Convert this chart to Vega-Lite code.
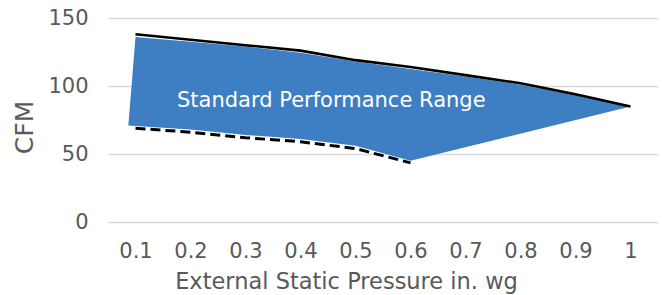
{
  "$schema": "https://vega.github.io/schema/vega-lite/v6.json",
  "autosize": "none",
  "width": 550,
  "height": 204,
  "padding": {"left": 108, "top": 18, "right": 4, "bottom": 73},
  "background": "white",
  "config": {
    "view": {"stroke": null},
    "font": "DejaVu Sans",
    "axis": {"labelFont": "DejaVu Sans", "titleFont": "DejaVu Sans", "labelColor": "#595959", "titleColor": "#595959", "titleFontWeight": "normal"}
  },
  "datasets": {
    "band": [
      {"p": 0.1, "cfm": 136, "i": 1},
      {"p": 0.2, "cfm": 132.5, "i": 2},
      {"p": 0.3, "cfm": 129, "i": 3},
      {"p": 0.4, "cfm": 124.5, "i": 4},
      {"p": 0.5, "cfm": 118, "i": 5},
      {"p": 0.6, "cfm": 112.5, "i": 6},
      {"p": 0.7, "cfm": 107, "i": 7},
      {"p": 0.8, "cfm": 101, "i": 8},
      {"p": 0.9, "cfm": 93.5, "i": 9},
      {"p": 1.0, "cfm": 85, "i": 10},
      {"p": 0.6, "cfm": 45, "i": 11},
      {"p": 0.5, "cfm": 56, "i": 12},
      {"p": 0.4, "cfm": 61, "i": 13},
      {"p": 0.3, "cfm": 64, "i": 14},
      {"p": 0.2, "cfm": 68, "i": 15},
      {"p": 0.087, "cfm": 71, "i": 16}
    ],
    "upper": [
      {"p": 0.1, "cfm": 138},
      {"p": 0.2, "cfm": 134},
      {"p": 0.3, "cfm": 130},
      {"p": 0.4, "cfm": 126},
      {"p": 0.5, "cfm": 119},
      {"p": 0.6, "cfm": 114},
      {"p": 0.7, "cfm": 108},
      {"p": 0.8, "cfm": 102},
      {"p": 0.9, "cfm": 94},
      {"p": 1.0, "cfm": 85}
    ],
    "lower": [
      {"p": 0.1, "cfm": 69},
      {"p": 0.2, "cfm": 66},
      {"p": 0.3, "cfm": 62},
      {"p": 0.4, "cfm": 59},
      {"p": 0.5, "cfm": 54},
      {"p": 0.6, "cfm": 43.5}
    ],
    "label": [
      {"p": 0.456, "cfm": 84.5, "text": "Standard Performance Range"}
    ]
  },
  "encoding": {
    "x": {
      "field": "p", "type": "quantitative",
      "scale": {"domain": [0.05, 1.05], "nice": false, "zero": false},
      "axis": {
        "values": [0.1, 0.2, 0.3, 0.4, 0.5, 0.6, 0.7, 0.8, 0.9, 1],
        "format": "~g",
        "grid": false, "domain": false, "ticks": false,
        "labelFontSize": 21, "labelPadding": 18, "labelFlush": false,
        "title": "External Static Pressure in. wg",
        "titleFontSize": 22.5, "titleX": 238, "titleY": 66,
        "titleAlign": "center", "titleBaseline": "alphabetic"
      }
    },
    "y": {
      "field": "cfm", "type": "quantitative",
      "scale": {"domain": [0, 150], "nice": false},
      "axis": {
        "values": [0, 50, 100, 150],
        "grid": true, "gridColor": "#D9D9D9", "gridWidth": 1.3,
        "domain": false, "ticks": false,
        "labelFontSize": 21, "labelPadding": 20,
        "title": "CFM", "titleFontSize": 25,
        "titleX": -84, "titleY": 109, "titleAlign": "center", "titleBaseline": "middle", "titleAngle": -90
      }
    }
  },
  "layer": [
    {
      "data": {"name": "band"},
      "mark": {"type": "line", "fill": "#3D7FC2", "strokeOpacity": 0, "strokeWidth": 0, "interpolate": "linear"},
      "encoding": {"order": {"field": "i", "type": "quantitative"}}
    },
    {
      "data": {"name": "upper"},
      "mark": {"type": "line", "color": "#000000", "strokeWidth": 2.6},
      "encoding": {}
    },
    {
      "data": {"name": "lower"},
      "mark": {"type": "line", "color": "#000000", "strokeWidth": 3, "strokeDash": [10, 5]},
      "encoding": {}
    },
    {
      "data": {"name": "label"},
      "mark": {"type": "text", "color": "#FFFFFF", "fontSize": 21, "align": "center", "baseline": "alphabetic", "font": "DejaVu Sans"},
      "encoding": {"text": {"field": "text"}}
    }
  ]
}
